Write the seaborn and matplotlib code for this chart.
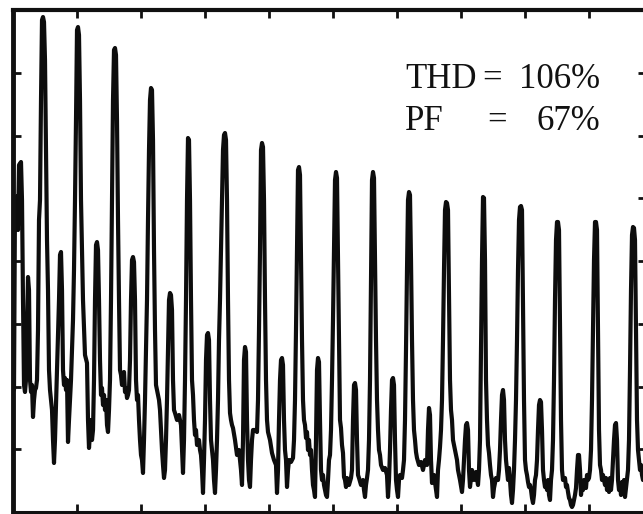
import matplotlib
matplotlib.use("Agg")
import matplotlib.pyplot as plt
import seaborn as sns
import pandas as pd

# Frequency axis (arbitrary units) and measured amplitude (arbitrary units)
freq = [1, 2, 4, 5, 6, 8, 9, 10, 11, 12, 13, 14, 15, 16, 17, 18, 19, 20, 21, 22, 23, 24, 25, 26, 27, 28, 29, 30,
        31, 32, 33, 34, 35, 36, 37, 39, 40, 41, 42, 44, 46, 47, 48, 49, 50, 51, 52, 53, 54, 55, 56, 58, 60, 61,
        62, 63, 64, 65, 66, 67, 68, 70, 72, 74, 75, 76, 78, 79, 80, 81, 82, 83, 84, 85, 86, 87, 88, 89, 90, 91,
        92, 93, 94, 95, 96, 97, 98, 99, 100, 101, 102, 103, 104, 105, 106, 107, 108, 109, 111, 112, 113, 114,
        115, 116, 117, 118, 119, 120, 121, 122, 123, 124, 125, 126, 127, 128, 129, 130, 131, 132, 133, 134, 135,
        136, 137, 138, 139, 140, 141, 142, 143, 144, 145, 146, 147, 148, 149, 150, 151, 152, 153, 154, 155, 156,
        157, 158, 159, 160, 161, 162, 164, 166, 168, 169, 170, 171, 172, 173, 174, 175, 176, 177, 178, 179, 180,
        181, 182, 183, 184, 186, 187, 188, 189, 190, 191, 192, 193, 194, 195, 196, 197, 198, 199, 200, 201, 202,
        203, 204, 205, 206, 207, 208, 209, 210, 211, 212, 213, 214, 215, 216, 217, 218, 219, 220, 222, 224, 226,
        227, 228, 229, 230, 231, 232, 233, 234, 235, 236, 237, 238, 239, 240, 242, 244, 245, 246, 247, 248, 249,
        250, 251, 252, 253, 254, 255, 257, 259, 261, 263, 264, 265, 266, 267, 268, 269, 270, 271, 272, 273, 274,
        275, 276, 278, 280, 281, 282, 283, 284, 285, 286, 287, 288, 289, 290, 291, 292, 293, 294, 295, 296, 297,
        298, 299, 300, 301, 302, 303, 304, 305, 306, 307, 308, 309, 310, 311, 312, 313, 314, 315, 316, 317, 318,
        319, 320, 321, 322, 323, 324, 325, 326, 327, 328, 329, 330, 331, 332, 333, 334, 336, 338, 339, 340, 341,
        342, 343, 344, 345, 346, 348, 350, 351, 352, 353, 354, 355, 356, 357, 358, 359, 360, 361, 362, 363, 364,
        365, 366, 367, 368, 370, 372, 374, 375, 376, 377, 378, 379, 380, 381, 382, 383, 384, 385, 386, 387, 389,
        390, 391, 392, 393, 394, 395, 396, 397, 398, 399, 400, 401, 402, 403, 404, 406, 408, 410, 412, 414, 415,
        416, 417, 418, 419, 421, 423, 424, 425, 426, 427, 428, 429, 430, 431, 432, 433, 434, 435, 436, 437, 438,
        439, 440, 442, 444, 445, 447, 449, 450, 451, 452, 453, 454, 455, 456, 457, 458, 459, 461, 463, 465, 466,
        467, 468, 469, 470, 471, 472, 473, 474, 475, 476, 477, 478, 479, 480, 481, 483, 485, 486, 487, 488, 489,
        490, 491, 492, 493, 494, 495, 496, 497, 498, 499, 500, 501, 502, 503, 504, 505, 506, 507, 508, 509, 510,
        511, 512, 513, 514, 515, 516, 517, 518, 519, 520, 521, 522, 523, 524, 525, 526, 527, 528, 529, 530, 531,
        532, 533, 534, 535, 536, 537, 538, 539, 540, 541, 542, 543, 544, 545, 546, 547, 548, 549, 550, 552, 553,
        554, 555, 556, 557, 558, 559, 560, 561, 562, 563, 564, 565, 566, 567, 568, 569, 570, 571, 573, 574, 575,
        576, 577, 578, 579, 580, 581, 582, 583, 584, 585, 586, 587, 588, 589, 590, 592, 593, 594, 595, 596, 597,
        598, 599, 600, 601, 602, 603, 604, 605, 606, 607, 608, 609, 610, 611, 612, 613, 614, 615, 616, 617, 618,
        619, 620, 621, 622, 623, 624, 625, 626, 627, 628, 629, 630, 632]

amplitude = [122, 312, 316, 282, 347, 350, 312, 212, 127, 120, 132, 182, 235, 222, 132, 120, 127, 95, 112, 122,
             124, 132, 182, 292, 312, 412, 492, 495, 490, 452, 362, 272, 222, 142, 122, 102, 72, 49, 72, 142, 212,
             257, 260, 222, 142, 127, 134, 122, 132, 70, 92, 132, 192, 242, 312, 392, 482, 485, 477, 412, 312,
             212, 157, 149, 92, 64, 92, 72, 82, 132, 212, 267, 270, 262, 212, 152, 117, 124, 107, 117, 102, 112,
             87, 80, 102, 132, 212, 312, 412, 462, 464, 457, 392, 292, 212, 142, 137, 127, 140, 120, 124, 114,
             117, 122, 152, 212, 252, 255, 250, 212, 132, 112, 117, 92, 72, 57, 52, 39, 72, 112, 162, 212, 292,
             362, 412, 424, 422, 372, 262, 182, 127, 122, 117, 112, 102, 82, 62, 47, 34, 42, 72, 112, 162, 212,
             219, 217, 202, 132, 102, 99, 92, 97, 87, 62, 39, 72, 132, 212, 312, 374, 372, 312, 212, 132, 117, 92,
             77, 82, 67, 72, 62, 57, 42, 19, 52, 92, 152, 177, 179, 172, 112, 72, 62, 52, 32, 19, 42, 72, 112, 172,
             212, 262, 312, 362, 377, 379, 372, 312, 212, 132, 99, 92, 87, 84, 72, 57, 62, 52, 42, 27, 72, 152,
             165, 160, 92, 52, 32, 25, 52, 72, 82, 82, 80, 112, 182, 262, 362, 369, 365, 312, 212, 132, 92, 80,
             72, 59, 52, 47, 19, 42, 92, 132, 152, 154, 147, 92, 62, 52, 25, 42, 52, 50, 54, 72, 112, 182, 262,
             342, 345, 337, 252, 172, 112, 92, 87, 74, 80, 62, 72, 57, 62, 42, 27, 22, 15, 72, 142, 154, 150, 92,
             42, 32, 37, 27, 22, 17, 15, 32, 52, 57, 82, 132, 192, 262, 332, 340, 334, 252, 172, 92, 84, 67, 59,
             35, 32, 25, 34, 27, 34, 42, 92, 127, 129, 122, 72, 37, 34, 27, 32, 22, 15, 27, 34, 42, 72, 132, 232,
             332, 340, 334, 252, 172, 112, 82, 62, 57, 47, 42, 44, 37, 15, 32, 62, 102, 132, 134, 127, 72, 32, 22,
             15, 32, 37, 34, 42, 52, 92, 162, 242, 312, 320, 317, 252, 172, 112, 82, 72, 60, 54, 47, 50, 42, 52,
             47, 82, 104, 97, 52, 29, 37, 22, 15, 42, 52, 65, 82, 112, 172, 242, 302, 310, 309, 302, 212, 132,
             102, 92, 72, 62, 52, 42, 32, 20, 32, 52, 72, 87, 89, 82, 42, 25, 34, 42, 32, 40, 27, 42, 72, 162, 252,
             315, 314, 252, 132, 92, 67, 59, 47, 37, 32, 15, 24, 34, 32, 42, 62, 92, 117, 122, 112, 72, 52, 42,
             32, 44, 32, 17, 9, 22, 42, 72, 112, 172, 242, 292, 305, 306, 302, 212, 112, 52, 42, 37, 30, 25, 27,
             22, 14, 9, 17, 32, 37, 52, 82, 107, 112, 110, 82, 42, 32, 25, 30, 22, 32, 17, 12, 32, 42, 72, 132,
             212, 272, 290, 290, 282, 182, 92, 42, 32, 34, 25, 27, 20, 14, 12, 7, 5, 7, 12, 17, 24, 42, 57, 57,
             42, 17, 27, 22, 32, 24, 37, 32, 34, 42, 62, 112, 182, 252, 290, 290, 282, 182, 82, 47, 42, 32, 37,
             27, 34, 22, 32, 20, 34, 22, 32, 52, 72, 87, 89, 72, 32, 22, 27, 17, 30, 22, 32, 15, 24, 32, 42, 72,
             142, 222, 277, 285, 284, 272, 182, 92, 62, 52, 42, 47, 37, 32, 34]

freq_ticks = [0, 64, 128, 192, 256, 320, 384, 448, 512, 576]
amp_ticks = [62.75, 125.5, 188.25, 251, 313.75, 376.5, 439.25]
thd_text = ["THD", "=", "106%"]
pf_text = ["PF", "=", "67%"]

sns.set_style("white")
plt.rcParams["font.family"] = ["Liberation Serif", "DejaVu Serif"]

fig = plt.figure(figsize=(6.43, 5.14), dpi=100)
ax = fig.add_axes([13 / 643, 2 / 514, 633 / 643, 502 / 514])

df = pd.DataFrame({"freq": freq, "amplitude": amplitude})
sns.lineplot(data=df, x="freq", y="amplitude", ax=ax, color="#0d0d0d",
             linewidth=3.0, estimator=None, sort=False, solid_joinstyle="round")

ax.set_xlim(0, 633)
ax.set_ylim(0, 502)
ax.set_xticks(freq_ticks)
ax.set_yticks(amp_ticks)
ax.tick_params(axis="both", which="both", direction="in", length=6, width=2,
               top=True, right=True, bottom=True, left=True,
               labelbottom=False, labelleft=False, colors="#111111")
ax.set_xlabel("")
ax.set_ylabel("")
for side, lw in [("left", 3.5), ("top", 3.0), ("bottom", 2.2), ("right", 3.0)]:
    ax.spines[side].set_visible(True)
    ax.spines[side].set_linewidth(lw)
    ax.spines[side].set_color("#111111")

fs = 25
ax.text(392, 424, thd_text[0], ha="left", va="baseline", fontsize=fs, color="#111111")
ax.text(479, 424, thd_text[1], ha="center", va="baseline", fontsize=fs, color="#111111")
ax.text(587, 424, thd_text[2], ha="right", va="baseline", fontsize=fs, color="#111111")
ax.text(392, 382, pf_text[0], ha="left", va="baseline", fontsize=fs, color="#111111")
ax.text(484, 382, pf_text[1], ha="center", va="baseline", fontsize=fs, color="#111111")
ax.text(587, 382, pf_text[2], ha="right", va="baseline", fontsize=fs, color="#111111")

fig.savefig("out.png", dpi=100, facecolor="white")
